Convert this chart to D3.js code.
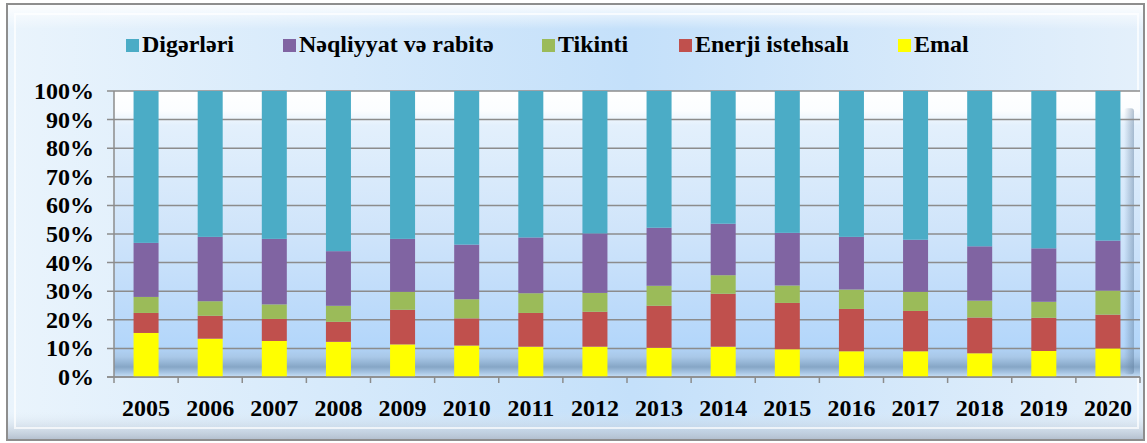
<!DOCTYPE html>
<html>
<head>
<meta charset="utf-8">
<script src="https://cdn.jsdelivr.net/npm/d3@7"></script>
<style>
  html, body { margin: 0; padding: 0; background: #ffffff; }
  svg { display: block; }
  text { font-family: "Liberation Serif", "Times New Roman", "DejaVu Serif", serif; font-weight: bold; fill: #000; }
</style>
</head>
<body>
<svg id="chart" width="1147" height="443"></svg>
<script>
// ---- data ----
const years = ["2005","2006","2007","2008","2009","2010","2011","2012","2013","2014","2015","2016","2017","2018","2019","2020"];
const seriesNames = ["Emal", "Enerji istehsalı", "Tikinti", "Nəqliyyat və rabitə", "Digərləri"];
const emal      = [15.4,13.4,12.6,12.3,11.4,11.0,10.6,10.6,10.2,10.6, 9.7, 9.0, 9.0, 8.3, 9.1,10.0];
const enerji    = [ 7.0, 8.0, 7.7, 7.0,12.1, 9.5,11.8,12.2,14.7,18.5,16.2,14.8,14.1,12.5,11.6,11.8];
const tikinti   = [ 5.6, 5.1, 5.1, 5.6, 6.3, 6.7, 6.9, 6.6, 7.0, 6.5, 6.1, 6.8, 6.7, 5.9, 5.6, 8.4];
const neqliyyat = [18.9,22.5,22.9,19.1,18.5,19.1,19.5,20.8,20.3,18.0,18.4,18.4,18.2,19.0,18.7,17.5];
const digerleri = [53.1,51.0,51.7,56.0,51.7,53.7,51.2,49.8,47.8,46.4,49.6,51.0,52.0,54.3,55.0,52.3];
const yTicks = [0,10,20,30,40,50,60,70,80,90,100];
const legendOrder = ["Digərləri", "Nəqliyyat və rabitə", "Tikinti", "Enerji istehsalı", "Emal"];

// ---- styling ----
const colors = {
  "Emal": "#ffff00",
  "Enerji istehsalı": "#c0504d",
  "Tikinti": "#9bbb59",
  "Nəqliyyat və rabitə": "#8064a2",
  "Digərləri": "#4bacc6"
};

const svg = d3.select("#chart");
const defs = svg.append("defs");

const gOuter = defs.append("linearGradient").attr("id", "outerGrad").attr("x1", 0).attr("x2", 1).attr("y1", 0).attr("y2", 0);
gOuter.append("stop").attr("offset", "0%").attr("stop-color", "#eaf4fc");
gOuter.append("stop").attr("offset", "55%").attr("stop-color", "#c4e0fa");
gOuter.append("stop").attr("offset", "100%").attr("stop-color", "#e4f0fb");

const gPlot = defs.append("linearGradient").attr("id", "plotGrad").attr("x1", 0).attr("x2", 0).attr("y1", 0).attr("y2", 1);
gPlot.append("stop").attr("offset", "0%").attr("stop-color", "#ffffff");
gPlot.append("stop").attr("offset", "7%").attr("stop-color", "#fbfdff");
gPlot.append("stop").attr("offset", "12%").attr("stop-color", "#e3f0fc");
gPlot.append("stop").attr("offset", "50%").attr("stop-color", "#cfe4fa");
gPlot.append("stop").attr("offset", "89%").attr("stop-color", "#b3d6fa");
gPlot.append("stop").attr("offset", "93%").attr("stop-color", "#a9c8e8");
gPlot.append("stop").attr("offset", "96.5%").attr("stop-color", "#86a6c6");
gPlot.append("stop").attr("offset", "98.5%").attr("stop-color", "#a8c6e4");
gPlot.append("stop").attr("offset", "100%").attr("stop-color", "#c8e0f6");

const gTop = defs.append("linearGradient").attr("id", "topBevel").attr("x1", 0).attr("x2", 0).attr("y1", 0).attr("y2", 1);
gTop.append("stop").attr("offset", "0%").attr("stop-color", "#ffffff").attr("stop-opacity", 0.9);
gTop.append("stop").attr("offset", "100%").attr("stop-color", "#ffffff").attr("stop-opacity", 0);
const gBot = defs.append("linearGradient").attr("id", "botBevel").attr("x1", 0).attr("x2", 0).attr("y1", 0).attr("y2", 1);
gBot.append("stop").attr("offset", "0%").attr("stop-color", "#dfe9f2").attr("stop-opacity", 0);
gBot.append("stop").attr("offset", "100%").attr("stop-color", "#b0bccb").attr("stop-opacity", 0.9);

svg.append("rect").attr("x", 7).attr("y", 4).attr("width", 1137).attr("height", 436)
  .attr("fill", "url(#outerGrad)").attr("stroke", "#8e8e8e").attr("stroke-width", 2);
svg.append("rect").attr("x", 8).attr("y", 5).attr("width", 1135).attr("height", 24).attr("fill", "url(#topBevel)");
svg.append("rect").attr("x", 8).attr("y", 412).attr("width", 1135).attr("height", 27).attr("fill", "url(#botBevel)");
svg.append("rect").attr("x", 15).attr("y", 14).attr("width", 1123).attr("height", 414)
  .attr("fill", "none").attr("stroke", "#ffffff").attr("stroke-opacity", 0.7).attr("stroke-width", 2);

// ---- scales ----
const x = d3.scaleBand().domain(years).range([114, 1140]).paddingInner(0.61).paddingOuter(0.305);
const y = d3.scaleLinear().domain([0, 100]).range([377, 91]);

svg.append("rect").attr("x", 114).attr("y", y(100)).attr("width", 1026).attr("height", y(0) - y(100))
  .attr("fill", "url(#plotGrad)");
const gRight = defs.append("linearGradient").attr("id", "rightShade").attr("x1", 0).attr("x2", 1).attr("y1", 0).attr("y2", 0);
gRight.append("stop").attr("offset", "0%").attr("stop-color", "#5a7898").attr("stop-opacity", 0);
gRight.append("stop").attr("offset", "100%").attr("stop-color", "#5a7898").attr("stop-opacity", 0.45);
svg.append("rect").attr("x", 1124).attr("y", y(94)).attr("width", 10).attr("height", y(1) - y(94)).attr("rx", 3).attr("fill", "url(#rightShade)");

// gridlines
svg.append("g").selectAll("line").data(yTicks).join("line")
  .attr("x1", 107).attr("x2", 1140)
  .attr("y1", d => y(d)).attr("y2", d => y(d))
  .attr("stroke", "#8c8c8c").attr("stroke-width", 1.5);

svg.append("line").attr("x1", 114).attr("x2", 114).attr("y1", y(100)).attr("y2", y(0))
  .attr("stroke", "#8c8c8c").attr("stroke-width", 1.5);

// ---- stacked bars ----
const table = years.map((yr, i) => ({
  year: yr,
  "Emal": emal[i],
  "Enerji istehsalı": enerji[i],
  "Tikinti": tikinti[i],
  "Nəqliyyat və rabitə": neqliyyat[i],
  "Digərləri": digerleri[i]
}));
const stacked = d3.stack().keys(seriesNames).offset(d3.stackOffsetExpand)(table);

svg.append("g").selectAll("g").data(stacked).join("g")
  .attr("fill", d => colors[d.key])
  .selectAll("rect").data(d => d).join("rect")
  .attr("x", d => x(d.data.year))
  .attr("width", x.bandwidth())
  .attr("y", d => y(d[1] * 100))
  .attr("height", d => y(d[0] * 100) - y(d[1] * 100));

// x axis
const xAxisG = svg.append("g").attr("transform", `translate(0,${y(0)})`);
xAxisG.append("line").attr("x1", 107).attr("x2", 1140).attr("y1", 0).attr("y2", 0)
  .attr("stroke", "#8c8c8c").attr("stroke-width", 1.5);
const tickXs = [x.range()[0]].concat(years.slice(1).map(yr => x(yr) - (x.step() - x.bandwidth()) / 2), [x.range()[1]]);
xAxisG.selectAll("line.tk").data(tickXs).join("line")
  .attr("class", "tk")
  .attr("x1", d => d).attr("x2", d => d).attr("y1", 0).attr("y2", 6)
  .attr("stroke", "#8c8c8c").attr("stroke-width", 1.5);

svg.append("g").selectAll("text").data(years).join("text")
  .attr("x", d => x(d) + x.bandwidth() / 2)
  .attr("y", 416)
  .attr("text-anchor", "middle")
  .attr("font-size", 24)
  .text(d => d);

svg.append("g").selectAll("text").data(yTicks).join("text")
  .attr("x", 94)
  .attr("y", d => y(d) + 8)
  .attr("text-anchor", "end")
  .attr("font-size", 24)
  .text(d => d + "%");

// legend
const legendX = [126, 283, 542, 679, 898];
const lg = svg.append("g").selectAll("g").data(legendOrder).join("g")
  .attr("transform", (d, i) => `translate(${legendX[i]},0)`);
lg.append("rect").attr("x", 0).attr("y", 39).attr("width", 13).attr("height", 13).attr("fill", d => colors[d]);
lg.append("text").attr("x", 16).attr("y", 52).attr("font-size", 24).text(d => d);
</script>
</body>
</html>
